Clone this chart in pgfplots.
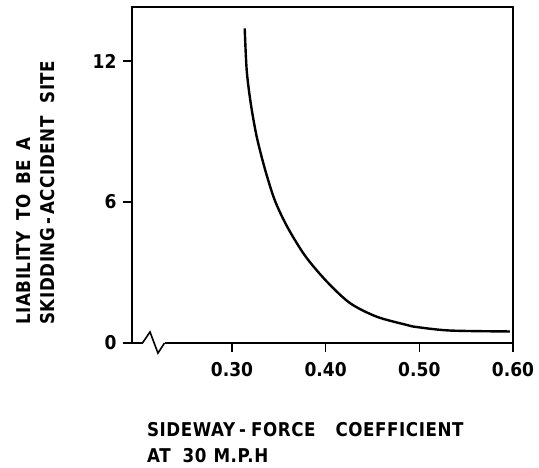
\documentclass[border=0pt]{standalone}
\usepackage{pgfplots}
\pgfplotsset{compat=1.18}
\usepackage{fontspec}
\setmainfont{DejaVu Sans}
\newfontfamily\tickfont[FakeStretch=0.9]{DejaVu Sans}
\newfontfamily\lblfont[FakeStretch=0.88, LetterSpace=3]{DejaVu Sans}
\begin{document}
\begin{tikzpicture}
\begin{axis}[
  scale only axis,
  width=381pt, height=336pt,
  xmin=0.1933, xmax=0.60,
  ymin=0, ymax=14.3,
  clip=false,
  axis line style={line width=1.6pt},
  tick style={line width=1.6pt, black},
  tick align=outside,
  xtick={0.30,0.40,0.50,0.60},
  ytick={0,6,12},
  major tick length=9pt,
  xtick pos=bottom, ytick pos=left,
  /pgf/number format/assume math mode=true,
  xticklabel={\pgfmathprintnumber[fixed,fixed zerofill,precision=2]{\tick}},
  yticklabel={\pgfmathprintnumber{\tick}},
  ticklabel style={font=\tickfont\bfseries\fontsize{19}{21}\selectfont},
  xticklabel style={yshift=-7pt},
  yticklabel style={xshift=-3pt},
  after end axis/.code={
    \fill[white] (axis cs:0.2045,-0.25) rectangle (axis cs:0.2280,0.25);
    \draw[line width=1.6pt, line join=miter] (axis cs:0.2045,0) -- (axis cs:0.2125,0.47) -- (axis cs:0.2210,-0.43) -- (axis cs:0.2280,0);
  },
]
\path (axis description cs:-0.3465,1.0208) rectangle (axis description cs:1.0682,-0.3720);
\addplot[line width=2.4pt, black, smooth, tension=0.5] coordinates {
(0.3136,13.39) (0.3157,11.62) (0.3200,10.21) (0.3264,8.78) (0.3352,7.40)
(0.3448,6.17) (0.3544,5.30) (0.3651,4.52) (0.3797,3.62) (0.4011,2.62)
(0.4259,1.70) (0.4544,1.12) (0.4864,0.77) (0.4971,0.68) (0.5327,0.53) (0.5967,0.49)
};
\node[rotate=90, anchor=north west, align=left, inner sep=0pt,
      font=\lblfont\bfseries\fontsize{19}{24}\selectfont]
  at (axis description cs:-0.3045,0.054) {LIABILITY\hspace{10pt}TO\hspace{10pt}BE\hspace{10pt}A\\SKIDDING\hspace{3pt}-\hspace{3pt}ACCIDENT\hspace{13pt}SITE};
\node[anchor=north west, align=left, inner sep=0pt,
      font=\lblfont\bfseries\fontsize{19}{26}\selectfont]
  at (axis description cs:0.039,-0.235) {SIDEWAY\hspace{4pt}-\hspace{5pt}FORCE\hspace{20pt}COEFFICIENT\\AT\hspace{12pt}30\hspace{7pt}M.P.H};
\end{axis}
\end{tikzpicture}
\end{document}
